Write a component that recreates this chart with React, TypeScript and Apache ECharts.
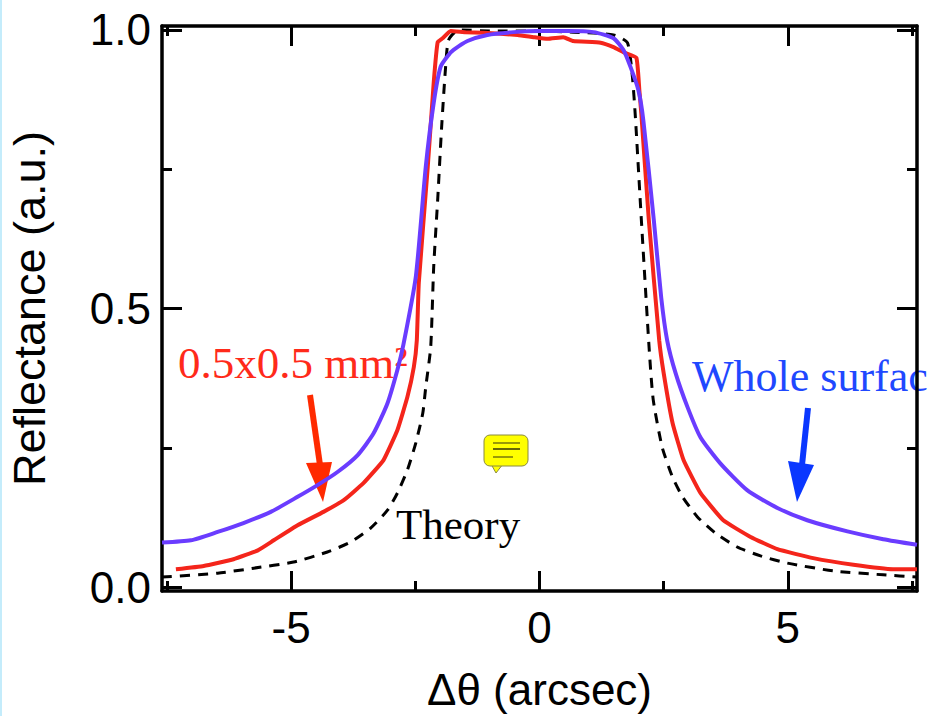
import React, { useEffect, useRef } from "react";
import * as echarts from "echarts";

const majorX = [-5, 0, 5];
const minorX = [-7.5, -2.5, 2.5, 7.5];
const majorY = [0, 0.5, 1];
const minorY = [0.25, 0.75];

const wholeSurface = [
  [-7.6, 0.08], [-7.02, 0.084], [-6.48, 0.099], [-5.96, 0.115], [-5.41, 0.135], [-4.87, 0.162], [-4.47, 0.183],
  [-4.06, 0.207], [-3.66, 0.237], [-3.34, 0.276], [-3.06, 0.33], [-2.86, 0.39], [-2.74, 0.435], [-2.49, 0.557],
  [-2.29, 0.754], [-2.13, 0.869], [-1.99, 0.934], [-1.83, 0.955], [-1.73, 0.964], [-1.45, 0.98], [-1.05, 0.991],
  [-0.52, 0.996], [0, 0.998], [0.56, 0.998], [1.09, 0.996], [1.49, 0.985], [1.69, 0.964], [1.83, 0.934],
  [1.99, 0.892], [2.09, 0.838], [2.3, 0.66], [2.45, 0.52], [2.57, 0.443], [2.74, 0.384], [2.98, 0.323],
  [3.24, 0.269], [3.64, 0.222], [4.18, 0.174], [4.79, 0.142], [5.39, 0.12], [6.2, 0.1], [6.92, 0.086], [7.6, 0.076],
];
const smallArea = [
  [-7.32, 0.032], [-6.76, 0.038], [-6.16, 0.05], [-5.67, 0.066], [-5.35, 0.084], [-4.87, 0.111], [-4.35, 0.135],
  [-3.94, 0.156], [-3.54, 0.187], [-3.14, 0.228], [-2.86, 0.282], [-2.66, 0.341], [-2.53, 0.395], [-2.47, 0.443],
  [-2.43, 0.546], [-2.25, 0.754], [-2.13, 0.905], [-2.05, 0.978], [-1.95, 0.985], [-1.79, 0.998], [-1.49, 0.996],
  [-1.13, 0.995], [-0.44, 0.991], [-0.12, 0.987], [0.16, 0.984], [0.48, 0.987], [0.68, 0.98], [1.23, 0.977],
  [1.49, 0.969], [1.69, 0.96], [1.95, 0.95], [2.01, 0.892], [2.05, 0.85], [2.2, 0.66], [2.41, 0.443], [2.5, 0.384],
  [2.68, 0.294], [2.9, 0.228], [3.24, 0.169], [3.7, 0.12], [4.25, 0.09], [4.79, 0.068], [5.51, 0.052], [6.32, 0.04],
  [7.12, 0.032], [7.6, 0.032],
];
const theory = [
  [-7.6, 0.018], [-6.48, 0.025], [-5.75, 0.034], [-4.95, 0.045], [-4.27, 0.063], [-3.8, 0.081], [-3.4, 0.106],
  [-3.06, 0.138], [-2.86, 0.169], [-2.66, 0.21], [-2.49, 0.259], [-2.35, 0.312], [-2.29, 0.359], [-2.19, 0.431],
  [-2.13, 0.575], [-2.05, 0.695], [-1.97, 0.826], [-1.89, 0.934], [-1.83, 0.982], [-1.63, 1.0], [-0.93, 0.998],
  [0, 0.998], [0.68, 0.996], [1.49, 0.991], [1.77, 0.977], [1.87, 0.916], [1.93, 0.844], [2.05, 0.66], [2.21, 0.425],
  [2.29, 0.336], [2.47, 0.251], [2.68, 0.197], [2.88, 0.162], [3.18, 0.126], [3.54, 0.097], [3.98, 0.072],
  [4.45, 0.056], [4.99, 0.043], [5.92, 0.029], [6.92, 0.022], [7.6, 0.018],
];

const SANS = "Liberation Sans";
const SERIF = "Liberation Serif";

export default function App() {
  const ref = useRef<HTMLDivElement>(null);
  useEffect(() => {
    document.body.style.margin = "0";
    const chart = echarts.init(ref.current!, null, { renderer: "svg" });
    const xBase = { type: "value", min: -7.6, max: 7.6, splitLine: { show: false } };
    const yBase = { type: "value", min: -0.007, max: 1.007, splitLine: { show: false } };
    const line = { show: true, onZero: false, lineStyle: { color: "#000", width: 3.5 } };
    const noLine = { show: false, onZero: false };
    const noLabel = { show: false };
    const tick = (values: number[], length: number) => ({
      show: true, inside: true, length, customValues: values, lineStyle: { color: "#000", width: 3 },
    });
    chart.setOption({
      animation: false,
      backgroundColor: "#fff",
      grid: { left: 162, right: 13, top: 26, bottom: 125, containLabel: false, outerBoundsMode: "none" },
      xAxis: [
        {
          ...xBase, position: "bottom", axisLine: line, axisTick: tick(majorX, 20),
          axisLabel: {
            show: true, customValues: majorX, margin: 14, fontFamily: SANS, fontSize: 44, color: "#000",
            formatter: (v: number) => String(v),
          },
          name: "Δθ (arcsec)", nameLocation: "middle", nameGap: 76,
          nameTextStyle: { fontFamily: SANS, fontSize: 44, color: "#000" },
        },
        { ...xBase, position: "bottom", axisLine: noLine, axisTick: tick(minorX, 10), axisLabel: noLabel },
        { ...xBase, position: "top", axisLine: line, axisTick: tick(majorX, 20), axisLabel: noLabel },
        { ...xBase, position: "top", axisLine: noLine, axisTick: tick(minorX, 10), axisLabel: noLabel },
      ],
      yAxis: [
        {
          ...yBase, position: "left", axisLine: line, axisTick: tick(majorY, 20),
          axisLabel: {
            show: true, customValues: majorY, margin: 11, fontFamily: SANS, fontSize: 44, color: "#000",
            padding: [0, 0, 4, 0],
            formatter: (v: number) => v.toFixed(1),
          },
          name: "Reflectance (a.u.)", nameLocation: "middle", nameGap: 110, nameRotate: 90,
          nameTextStyle: { fontFamily: SANS, fontSize: 45, color: "#000" },
        },
        { ...yBase, position: "left", axisLine: noLine, axisTick: tick(minorY, 10), axisLabel: noLabel },
        { ...yBase, position: "right", axisLine: line, axisTick: tick(majorY, 20), axisLabel: noLabel },
        { ...yBase, position: "right", axisLine: noLine, axisTick: tick(minorY, 10), axisLabel: noLabel },
      ],
      series: [
        {
          name: "Theory", type: "line", data: theory, showSymbol: false, symbol: "none", smooth: 0.2,
          lineStyle: { color: "#000", width: 3, type: [10, 8] }, z: 2,
        },
        {
          name: "0.5x0.5 mm²", type: "line", data: smallArea, showSymbol: false, symbol: "none", smooth: 0.12,
          lineStyle: { color: "#f4251b", width: 4 }, z: 3,
        },
        {
          name: "Whole surface", type: "line", data: wholeSurface, showSymbol: false, symbol: "none", smooth: 0.2,
          lineStyle: { color: "#6a3cff", width: 4 }, z: 4,
        },
      ],
      graphic: [
        { type: "rect", shape: { x: 0, y: 0, width: 2, height: 716 }, style: { fill: "#c4ecfb" } },
        { type: "text", x: 178, y: 340, style: { text: "0.5x0.5 mm²", fontFamily: SERIF, fontSize: 45, fill: "#ff2a1a" } },
        { type: "text", x: 692, y: 354, style: { text: "Whole surfac", fontFamily: SERIF, fontSize: 44, fill: "#1f48ff" } },
        { type: "text", x: 396, y: 503, style: { text: "Theory", fontFamily: SERIF, fontSize: 43, fill: "#000" } },
        { type: "line", shape: { x1: 310, y1: 395, x2: 320, y2: 465 }, style: { stroke: "#ff2a00", lineWidth: 6 } },
        { type: "polygon", shape: { points: [[306, 463], [332, 462], [323, 502]] }, style: { fill: "#ff2a00" } },
        { type: "line", shape: { x1: 808, y1: 408, x2: 802, y2: 465 }, style: { stroke: "#0a37ff", lineWidth: 6 } },
        { type: "polygon", shape: { points: [[788, 461], [814, 465], [797, 502]] }, style: { fill: "#0a37ff" } },
        { type: "polygon", shape: { points: [[491, 464], [503, 464], [496, 473]] }, style: { fill: "#ffff00", stroke: "#8a8a40", lineWidth: 1 } },
        { type: "rect", shape: { x: 484, y: 435, width: 44, height: 31, r: 6 }, style: { fill: "#ffff00", stroke: "#8a8a40", lineWidth: 1 } },
        { type: "line", shape: { x1: 493, y1: 443, x2: 520, y2: 443 }, style: { stroke: "#77770a", lineWidth: 1.5 } },
        { type: "line", shape: { x1: 493, y1: 449, x2: 520, y2: 449 }, style: { stroke: "#33330a", lineWidth: 1.5 } },
        { type: "line", shape: { x1: 493, y1: 457, x2: 513, y2: 457 }, style: { stroke: "#77770a", lineWidth: 1.5 } },
      ],
    });
    return () => chart.dispose();
  }, []);
  return <div ref={ref} style={{ width: 930, height: 716 }} />;
}
